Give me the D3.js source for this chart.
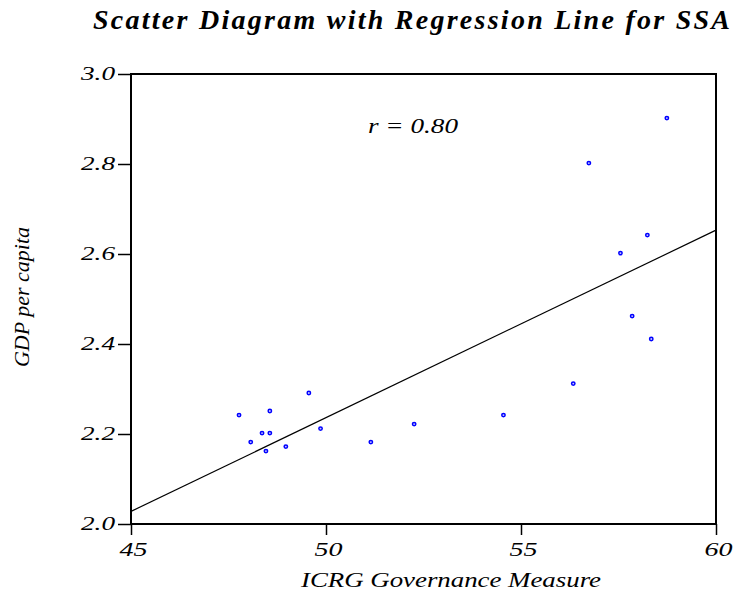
<!DOCTYPE html>
<html>
<head>
<meta charset="utf-8">
<script src="https://cdn.jsdelivr.net/npm/d3@7"></script>
<style>
  html, body { margin: 0; padding: 0; background: #fff; }
  svg { display: block; }
  text { font-family: "Liberation Serif", Tinos, "Nimbus Roman", "Times New Roman", Times, serif; font-style: italic; fill: #000; }
</style>
</head>
<body>
<div id="chart"></div>
<script>
// ---- data ----
const governance = [58.74, 56.74, 58.24, 57.55, 57.85, 58.34, 56.34, 54.55,
                    49.56, 47.77, 48.56, 48.36, 48.56, 48.07, 48.46, 48.97, 49.86, 52.26, 51.15];
const gdpPerCapita = [2.902, 2.802, 2.642, 2.602, 2.462, 2.411, 2.312, 2.242,
                      2.291, 2.242, 2.251, 2.202, 2.202, 2.182, 2.162, 2.172, 2.212, 2.222, 2.182];
const regLineX = [45, 60];
const regLineY = [2.028, 2.653];
const xTicks = [45, 50, 55, 60];
const yTicks = [2.0, 2.2, 2.4, 2.6, 2.8, 3.0];
const titleText = "Scatter Diagram with Regression Line for SSA";
const xLabel = "ICRG Governance Measure";
const yLabel = "GDP per capita";
const rText = "r = 0.80";

// ---- layout ----
const W = 736, H = 592;
const L = 131, R = 716, T = 74, B = 524;
const FONT = "'Liberation Serif', Tinos, 'Nimbus Roman', 'Times New Roman', Times, serif";

const svg = d3.select("#chart").append("svg").attr("width", W).attr("height", H);

const x = d3.scaleLinear().domain([45, 60]).range([L, R]);
const y = d3.scaleLinear().domain([2.0, 3.0]).range([B, T]);

// frame
svg.append("rect").attr("x", L).attr("y", T).attr("width", R - L).attr("height", B - T)
  .attr("fill", "none").attr("stroke", "#000").attr("stroke-width", 2);

// axes
const xAxis = svg.append("g").attr("transform", `translate(0,${B})`)
  .call(d3.axisBottom(x).tickValues(xTicks).tickSize(11).tickPadding(8).tickFormat(d3.format("d")));
const yAxis = svg.append("g").attr("transform", `translate(${L},0)`)
  .call(d3.axisLeft(y).tickValues(yTicks).tickSize(13).tickPadding(3).tickFormat(d3.format(".1f")));

[xAxis, yAxis].forEach(g => {
  g.select(".domain").remove();
  g.selectAll(".tick line").attr("stroke", "#000").attr("stroke-width", 1.5);
  g.selectAll(".tick text")
    .style("font-family", FONT)
    .style("font-style", "italic")
    .style("font-size", "19px")
    .attr("fill", "#000");
});
xAxis.selectAll(".tick text").attr("textLength", 28).attr("lengthAdjust", "spacingAndGlyphs")
  .attr("dx", 2).attr("dy", "0.66em");
yAxis.selectAll(".tick text").attr("textLength", 34).attr("lengthAdjust", "spacingAndGlyphs")
  .attr("dy", "0.3em");

// regression line
const line = d3.line().x(d => x(d[0])).y(d => y(d[1]));
svg.append("path").datum(regLineX.map((v, i) => [v, regLineY[i]]))
  .attr("d", line).attr("fill", "none").attr("stroke", "#000").attr("stroke-width", 1.2);

// points
svg.append("g").selectAll("circle")
  .data(governance.map((v, i) => [v, gdpPerCapita[i]]))
  .join("circle")
  .attr("cx", d => x(d[0])).attr("cy", d => y(d[1])).attr("r", 1.7)
  .attr("fill", "#c8c8ff").attr("stroke", "#0000ff").attr("stroke-width", 1.5);

// r text
svg.append("text").attr("x", 368).attr("y", 133)
  .attr("textLength", 90).attr("lengthAdjust", "spacingAndGlyphs")
  .style("font-size", "20px").text(rText);

// title
svg.append("text").attr("x", 93).attr("y", 29)
  .attr("textLength", 637).attr("lengthAdjust", "spacing")
  .style("font-size", "28px").style("font-weight", "bold").text(titleText);

// x label
svg.append("text").attr("x", 301).attr("y", 587)
  .attr("textLength", 300).attr("lengthAdjust", "spacingAndGlyphs")
  .style("font-size", "20px").text(xLabel);

// y label
svg.append("text").attr("transform", "translate(29,367) rotate(-90)")
  .attr("textLength", 140).attr("lengthAdjust", "spacingAndGlyphs")
  .style("font-size", "20px").text(yLabel);
</script>
</body>
</html>
